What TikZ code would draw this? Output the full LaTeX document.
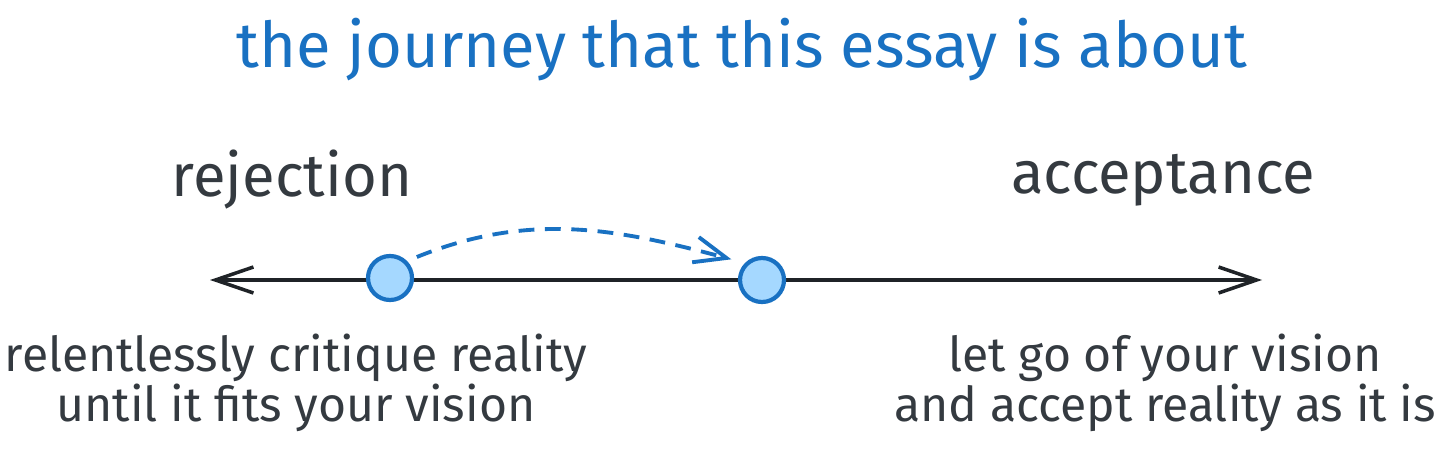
\documentclass[tikz,border=0pt]{standalone}
\usepackage{fontspec}
\setmainfont{Fira Sans}
\usetikzlibrary{positioning,arrows.meta}
\definecolor{exblue}{HTML}{1971C2}
\definecolor{exfill}{HTML}{A5D8FF}
\definecolor{exdark}{HTML}{343A40}

\tikzset{
  dot/.style={draw=exblue, fill=exfill, circle, line width=1.2pt, minimum size=0.44cm, inner sep=0pt},
  heading/.style={text=exdark, font=\fontsize{17}{20}\selectfont},
  caption/.style={text=exdark, align=center, font=\fontsize{13.7}{14.2}\selectfont}
}

\begin{document}
\begin{tikzpicture}[node distance=2cm, auto]
\useasboundingbox (0,0) rectangle (14.56,4.56);
\node (title)[text=exblue, font=\fontsize{18}{22}\selectfont] at (7.42,4.06) {the journey that this essay is about};
\node (rej)[heading] at (2.92,2.76) {rejection};
\node (acc)[heading] at (11.63,2.76) {acceptance};
\coordinate (left) at (2.1,1.76);
\coordinate (right) at (12.62,1.76);
\draw[arrows={Straight Barb[length=3.8mm, width=2.6mm]-Straight Barb[length=3.8mm, width=2.6mm]}, line width=1pt, exdark!60!black] (left) -- (right);
\node (start)[dot] at (3.90,1.78) {};
\node (now)[dot] at (7.62,1.76) {};
\draw[exblue, line width=1.1pt, dash pattern=on 4.5pt off 3pt, arrows={-Straight Barb[length=3.2mm, width=2.6mm]}, shorten <=3pt, shorten >=4pt] (start.north east) to[out=22, in=165] (now.north west);
\node (crit)[caption] at (2.96,0.73) {relentlessly critique reality\\until it fits your vision};
\node (let)[caption] at (11.65,0.73) {let go of your vision\\and accept reality as it is};
\end{tikzpicture}
\end{document}
